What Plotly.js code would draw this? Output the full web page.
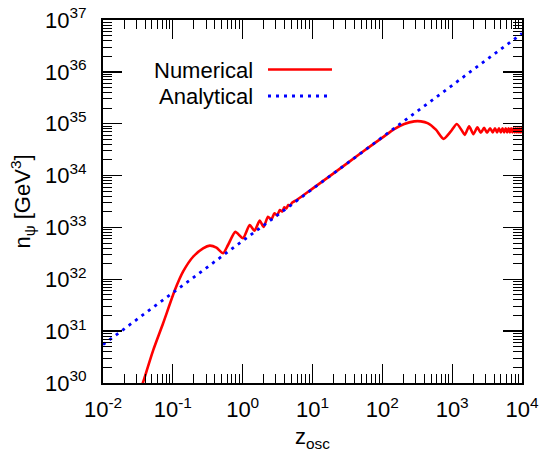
<!DOCTYPE html>
<html>
<head>
<meta charset="utf-8">
<script src="https://cdn.plot.ly/plotly-3.0.1.min.js"></script>
<style>html,body{margin:0;padding:0;background:#fff;}#chart{width:539px;height:452px;}</style>
</head>
<body>
<div id="chart"></div>
<script>
// Numerical solution
const zNumerical = [0.035, 0.0377, 0.0524, 0.0726, 0.107, 0.140, 0.195, 0.271, 0.338, 0.421, 0.524, 0.617, 0.785, 1.01, 1.26, 1.48, 1.75, 2.0, 2.30, 2.58, 2.85, 3.12, 3.4, 3.68, 3.95, 4.22, 4.5, 4.8, 5.1, 6, 10, 20, 50, 100, 148, 206, 286, 357, 444, 585, 752, 957, 1167, 1403, 1517, 1750, 2014, 2296, 2570, 2864, 3162, 3491, 3811, 4100, 4390, 4680, 4970, 5260, 5550, 5840, 6130, 6420, 6710, 7000, 7290, 7580, 7870, 8160, 8450, 8740, 9030, 9320, 9610, 9900, 10190];
const nNumerical = [7.9e29, 1.06e30, 4.3e30, 1.42e31, 6.2e31, 1.4e32, 2.72e32, 3.95e32, 4.45e32, 4.06e32, 3.17e32, 4.58e32, 8.2e32, 6.17e32, 1.11e33, 8.65e32, 1.35e33, 1.02e33, 1.61e33, 1.42e33, 1.88e33, 1.71e33, 2.17e33, 2.02e33, 2.44e33, 2.32e33, 2.71e33, 2.64e33, 3.01e33, 3.41e33, 5.6e33, 1.1e34, 2.75e34, 5.4e34, 7.9e34, 9.9e34, 1.11e35, 1.11e35, 1.03e35, 7.7e34, 5.1e34, 7.1e34, 9.9e34, 7.1e34, 6.1e34, 8.9e34, 6.3e34, 8.5e34, 6.7e34, 8.3e34, 6.7e34, 8.2e34, 6.8e34, 8.2e34, 6.8e34, 8.2e34, 6.8e34, 8.2e34, 6.8e34, 8.2e34, 6.8e34, 8.2e34, 6.8e34, 8.2e34, 6.8e34, 8.2e34, 6.8e34, 8.2e34, 6.8e34, 8.2e34, 6.8e34, 8.2e34, 6.8e34, 8.2e34, 6.8e34];

// Analytical estimate
const zAnalytical = [1e-2, 1e-1, 1, 10, 100, 1000, 1e4];
const nAnalytical = [5.5e30, 5.5e31, 5.5e32, 5.5e33, 5.5e34, 5.5e35, 5.5e36];

// Tick labels
const xTickVals = [1e-2, 1e-1, 1, 10, 100, 1000, 1e4];
const xTickText = ['10<sup>-2</sup>', '10<sup>-1</sup>', '10<sup>0</sup>', '10<sup>1</sup>', '10<sup>2</sup>', '10<sup>3</sup>', '10<sup>4</sup>'];
const yTickVals = [1e30, 1e31, 1e32, 1e33, 1e34, 1e35, 1e36, 1e37];
const yTickText = ['10<sup>30</sup>', '10<sup>31</sup>', '10<sup>32</sup>', '10<sup>33</sup>', '10<sup>34</sup>', '10<sup>35</sup>', '10<sup>36</sup>', '10<sup>37</sup>'];

const seriesNames = ['Numerical', 'Analytical'];

function minorVals(lo, hi) {
  const v = [];
  for (let e = lo; e < hi; e++) for (let m = 2; m <= 9; m++) v.push(m * Math.pow(10, e));
  return v;
}

const FONT = 'Liberation Sans, Arial, Helvetica, sans-serif';

const traces = [
  {x: zNumerical, y: nNumerical, type: 'scatter', mode: 'lines', name: seriesNames[0],
   line: {color: '#ff0000', width: 2.6, shape: 'spline', smoothing: 0.6}},
  {x: zAnalytical, y: nAnalytical, type: 'scatter', mode: 'lines', name: seriesNames[1],
   line: {color: '#0000ff', width: 2.8, dash: '3px,5px'}}
];

const axisCommon = {
  type: 'log', showgrid: false, zeroline: false,
  showline: true, linecolor: '#000', linewidth: 2, mirror: 'ticks',
  ticks: 'inside', ticklen: 19, tickwidth: 1.3, tickcolor: '#000',
  tickmode: 'array',
  tickfont: {family: FONT, size: 22, color: '#000'}
};

const layout = {
  width: 539, height: 452,
  margin: {l: 103, r: 17, t: 20, b: 69},
  paper_bgcolor: '#fff', plot_bgcolor: '#fff',
  showlegend: false,
  font: {family: FONT, color: '#000'},
  xaxis: Object.assign({}, axisCommon, {
    range: [-2, 4], tickvals: xTickVals, ticktext: xTickText,
    ticklabelstandoff: 6,
    minor: {tickmode: 'array', tickvals: minorVals(-2, 4), ticks: 'inside', ticklen: 9, tickwidth: 1, tickcolor: '#000'},
    title: {text: 'z<sub>osc</sub>', font: {family: FONT, size: 22, color: '#000'}, standoff: 8}
  }),
  yaxis: Object.assign({}, axisCommon, {
    range: [30, 37], tickvals: yTickVals, ticktext: yTickText,
    ticklabelstandoff: 10,
    minor: {tickmode: 'array', tickvals: minorVals(30, 37), ticks: 'inside', ticklen: 9, tickwidth: 1, tickcolor: '#000'},
    title: {text: 'n<sub>ψ</sub> [GeV<sup>3</sup>]', font: {family: FONT, size: 22, color: '#000'}, standoff: 8}
  }),
  annotations: [
    {text: seriesNames[0], xref: 'paper', yref: 'paper', x: 0.3628, y: 0.862, xanchor: 'right', yanchor: 'middle', showarrow: false, font: {family: FONT, size: 22, color: '#000'}},
    {text: seriesNames[1], xref: 'paper', yref: 'paper', x: 0.3628, y: 0.789, xanchor: 'right', yanchor: 'middle', showarrow: false, font: {family: FONT, size: 22, color: '#000'}}
  ],
  shapes: [
    {type: 'line', xref: 'paper', yref: 'paper', x0: 0.3938, x1: 0.5465, y0: 0.8636, y1: 0.8636, line: {color: '#ff0000', width: 2.6}},
    {type: 'line', xref: 'paper', yref: 'paper', x0: 0.3938, x1: 0.537, y0: 0.7906, y1: 0.7906, line: {color: '#0000ff', width: 2.8, dash: '3px,5px'}}
  ]
};

Plotly.newPlot('chart', traces, layout, {displayModeBar: false, staticPlot: true});
</script>
</body>
</html>
